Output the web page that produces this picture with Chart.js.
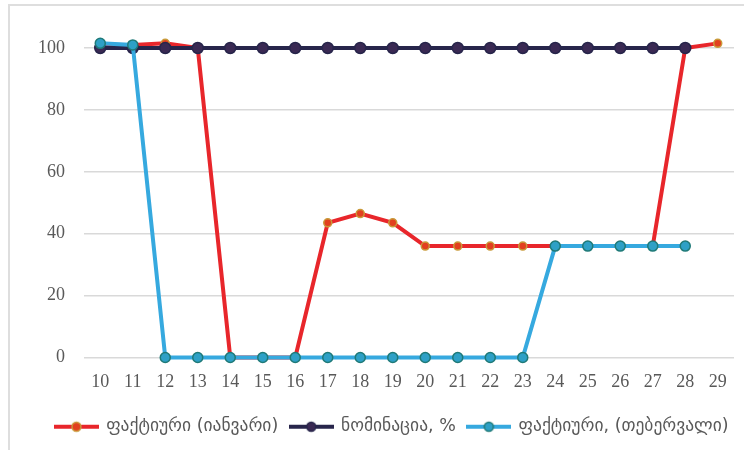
<!DOCTYPE html>
<html>
<head>
<meta charset="utf-8">
<script src="https://cdn.jsdelivr.net/npm/chart.js@4/dist/chart.umd.min.js"></script>
<style>
  html, body { margin: 0; padding: 0; background: #fff; overflow: hidden; }
  .frame {
    position: absolute; left: 8px; top: 4px; width: 800px; height: 500px;
    border-top: 2px solid #dedede; border-left: 2px solid #dedede;
  }
  .chart-box { position: absolute; left: 0; top: 0; width: 744px; height: 450px; }
</style>
</head>
<body>
<div class="frame"></div>
<div class="chart-box"><canvas id="chart" width="744" height="450"></canvas></div>
<script>
// categories (days)
const days = ["10", "11", "12", "13", "14", "15", "16", "17", "18", "19",
              "20", "21", "22", "23", "24", "25", "26", "27", "28", "29"];

// series values
const factJanuary = [100.5, 101, 101.5, 100, 0, 0, 0, 43.5, 46.5, 43.5,
                     36, 36, 36, 36, 36, 36, 36, 36, 100, 101.5];
const nomination = [100, 100, 100, 100, 100, 100, 100, 100, 100, 100,
                    100, 100, 100, 100, 100, 100, 100, 100, 100, null];
const factFebruary = [101.5, 101, 0, 0, 0, 0, 0, 0, 0, 0,
                      0, 0, 0, 0, 36, 36, 36, 36, 36, null];

const seriesNames = ["ფაქტიური (იანვარი)", "ნომინაცია, %", "ფაქტიური, (თებერვალი)"];
const yTicks = [0, 20, 40, 60, 80, 100];

const textColor = "#595959";

// small line+marker picture for the legend
function legendIcon(lineColor, fill, stroke) {
  const c = document.createElement("canvas");
  c.width = 45;
  c.height = 14;
  const ctx = c.getContext("2d");
  ctx.strokeStyle = lineColor;
  ctx.lineWidth = 4;
  ctx.beginPath();
  ctx.moveTo(0, 7);
  ctx.lineTo(45, 7);
  ctx.stroke();
  ctx.beginPath();
  ctx.arc(22.5, 7, 4.5, 0, Math.PI * 2);
  ctx.fillStyle = fill;
  ctx.fill();
  ctx.lineWidth = 1.5;
  ctx.strokeStyle = stroke;
  ctx.stroke();
  return c;
}

const styles = [
  { line: "#e8262b", fill: "#e2401f", stroke: "#c99a3a", r: 4, order: 2 },
  { line: "#27254b", fill: "#3a2953", stroke: "#27254b", r: 5.5, order: 1 },
  { line: "#36a9df", fill: "#2ea0c6", stroke: "#1f7a78", r: 5, order: 0 },
];
const allData = [factJanuary, nomination, factFebruary];

const datasets = allData.map((d, i) => ({
  label: seriesNames[i],
  data: d,
  borderColor: styles[i].line,
  backgroundColor: styles[i].line,
  borderWidth: 4,
  pointRadius: styles[i].r,
  pointBackgroundColor: styles[i].fill,
  pointBorderColor: styles[i].stroke,
  pointBorderWidth: 1.5,
  tension: 0,
  order: styles[i].order,
  clip: false,
  spanGaps: false,
}));

const icons = styles.map((s) => legendIcon(s.line, s.fill, s.stroke));

// legend in the picture sits a little right of centre
const shiftLegend = {
  id: "shiftLegend",
  afterLayout: (chart) => {
    chart.legend.left += 25;
    chart.legend.right += 25;
  },
};

new Chart(document.getElementById("chart"), {
  type: "line",
  data: { labels: days, datasets },
  plugins: [shiftLegend],
  options: {
    responsive: false,
    animation: false,
    layout: { padding: { top: 48, right: 10, left: 0, bottom: 4.5 } },
    plugins: {
      tooltip: { enabled: false },
      legend: {
        position: "bottom",
        labels: {
          usePointStyle: true,
          pointStyleWidth: 42,
          padding: 12,
          color: textColor,
          font: { family: "'DejaVu Sans'", size: 17.5 },
          generateLabels: (chart) =>
            chart.data.datasets.map((ds, i) => ({
              text: ds.label,
              pointStyle: icons[i],
              fillStyle: ds.borderColor,
              strokeStyle: ds.borderColor,
              lineWidth: 0,
              fontColor: textColor,
              hidden: false,
              datasetIndex: i,
            })),
        },
      },
    },
    scales: {
      x: {
        offset: true,
        grid: { display: false, drawTicks: false },
        border: { display: false },
        ticks: {
          color: textColor,
          padding: 14,
          maxRotation: 0,
          autoSkip: false,
          font: { family: "'Liberation Serif'", size: 18 },
        },
        afterFit: (scale) => { scale.height = 48.5; },
      },
      y: {
        min: 0,
        max: 100,
        afterBuildTicks: (scale) => { scale.ticks = yTicks.map((v) => ({ value: v })); },
        grid: { color: "#d9d9d9", lineWidth: 1.5, drawTicks: false },
        border: { display: false },
        ticks: {
          color: textColor,
          padding: 19,
          font: { family: "'Liberation Serif'", size: 18 },
        },
        afterFit: (scale) => { scale.width = 84; },
      },
    },
  },
});
</script>
</body>
</html>
